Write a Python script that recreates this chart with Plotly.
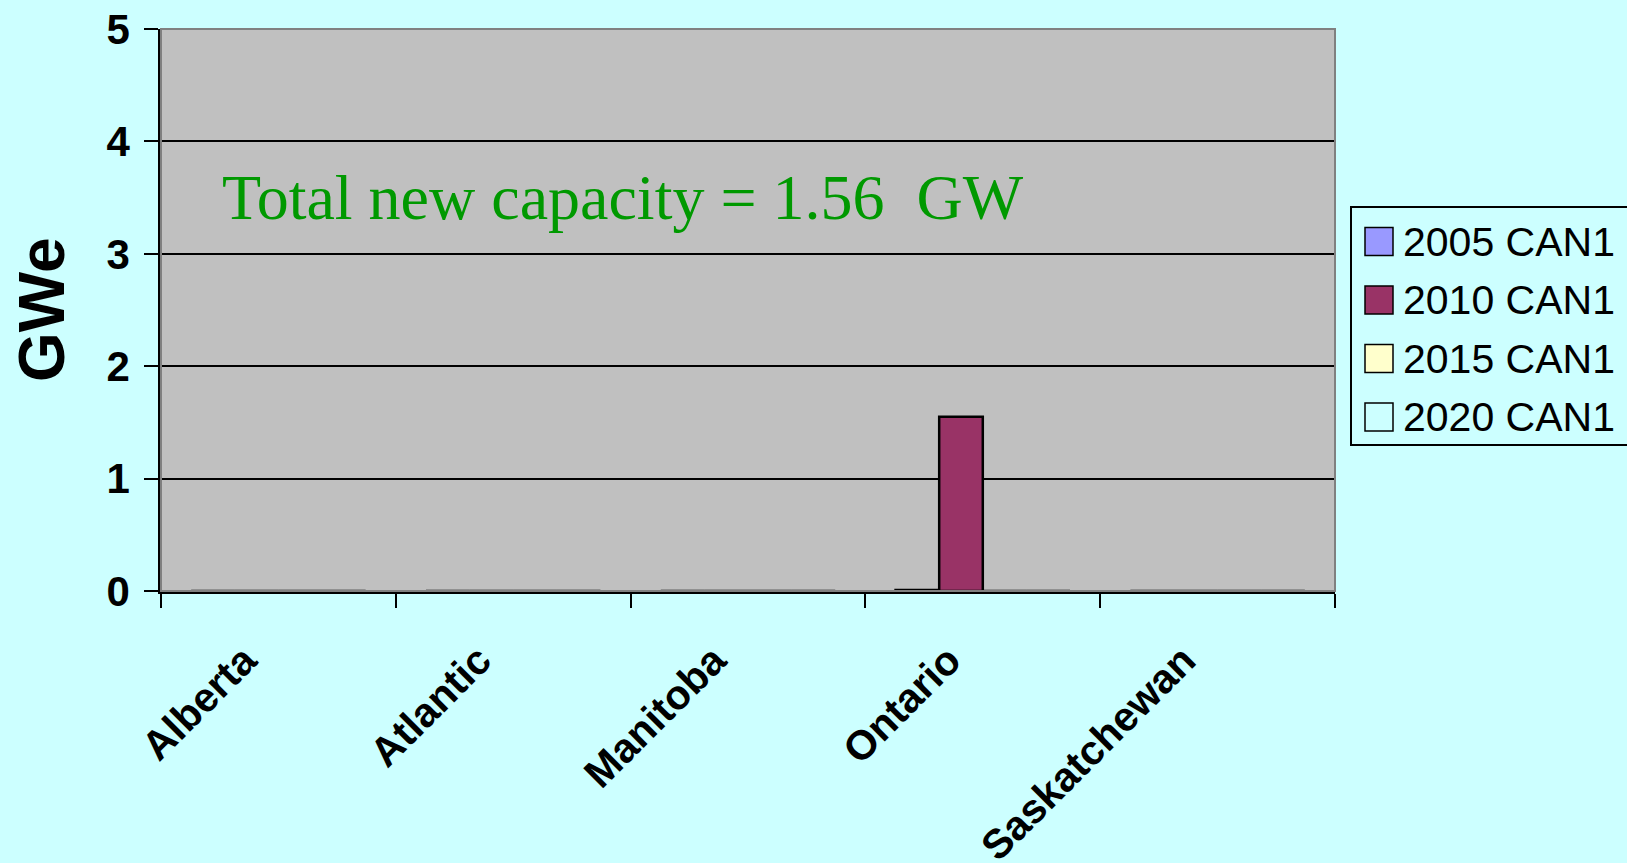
import plotly.graph_objects as go

# Regions and new capacity (GWe) by scenario year
regions = ["Alberta", "Atlantic", "Manitoba", "Ontario", "Saskatchewan"]
series_names = ["2005 CAN1", "2010 CAN1", "2015 CAN1", "2020 CAN1"]
cap_2005 = [0.0, 0.0, 0.0, 0.01, 0.0]
cap_2010 = [0.0, 0.0, 0.0, 1.55, 0.0]
cap_2015 = [0.0, 0.0, 0.0, 0.0, 0.0]
cap_2020 = [0.0, 0.0, 0.0, 0.0, 0.0]
series_values = [cap_2005, cap_2010, cap_2015, cap_2020]
series_colors = ["#9999FF", "#993366", "#FFFFCC", "#CCFFFF"]
y_ticks = [0, 1, 2, 3, 4, 5]

W, H = 1627, 863
L, R, T, B = 161, 292, 29, 272
pw, ph = W - L - R, H - T - B


def px_x(p):
    return (p - L) / pw


def px_y(p):
    return (H - B - p) / ph


fig = go.Figure()
for name, vals, col in zip(series_names, series_values, series_colors):
    fig.add_trace(go.Bar(
        x=regions, y=vals, name=name,
        marker=dict(color=col, line=dict(color="black", width=2.5)),
        showlegend=False,
    ))

total = sum(sum(v) for v in series_values)

annotations = [
    dict(text=f"Total new capacity = {total:.2f}\u00a0 GW", xref="paper", yref="paper",
         x=px_x(220), y=px_y(197), xanchor="left", yanchor="middle", showarrow=False,
         font=dict(family="Liberation Serif", size=64, color="#009900")),
    dict(text="GWe", xref="paper", yref="paper", x=px_x(42), y=0.5, textangle=-90,
         xanchor="center", yanchor="middle", showarrow=False,
         font=dict(family="Liberation Sans", size=64, color="black", weight="bold")),
]

shapes = [
    # plot area border (top/right)
    dict(type="rect", xref="paper", yref="paper", x0=0, x1=1, y0=0, y1=1,
         line=dict(color="#808080", width=2), layer="above"),
    # legend frame
    dict(type="rect", xref="paper", yref="paper", x0=px_x(1351), x1=px_x(1660),
         y0=px_y(445), y1=px_y(207), line=dict(color="black", width=2)),
]

row_centers = [241.5, 300, 358.5, 417]
for name, col, yc in zip(series_names, series_colors, row_centers):
    shapes.append(dict(type="rect", xref="paper", yref="paper",
                       x0=px_x(1365), x1=px_x(1393), y0=px_y(yc + 14), y1=px_y(yc - 14),
                       fillcolor=col, line=dict(color="black", width=1.5)))
    annotations.append(dict(text=name, xref="paper", yref="paper", x=px_x(1401), y=px_y(yc),
                            xanchor="left", yanchor="middle", showarrow=False,
                            font=dict(family="Liberation Sans", size=41, color="black")))

fig.update_layout(
    width=W, height=H,
    margin=dict(l=L, r=R, t=T, b=B, autoexpand=False),
    paper_bgcolor="#CCFFFF",
    plot_bgcolor="#C0C0C0",
    barmode="group",
    bargap=0.257,
    bargroupgap=0,
    annotations=annotations,
    shapes=shapes,
    showlegend=False,
)

fig.update_xaxes(
    type="category", tickson="boundaries", ticks="outside", ticklen=14, tickwidth=2,
    tickcolor="black", showline=True, linecolor="black", linewidth=2.5,
    tickangle=-45, showgrid=False,
    tickfont=dict(family="Liberation Sans", size=41, color="black", weight="bold"),
    ticklabelstandoff=26, ticklabelshift=-34,
)
fig.update_yaxes(
    range=[0, 5], tickvals=y_ticks, ticks="outside", ticklen=14, tickwidth=2,
    tickcolor="black", showline=True, linecolor="black", linewidth=2.5,
    showgrid=True, gridcolor="black", gridwidth=1.5, zeroline=False,
    tickfont=dict(family="Liberation Sans", size=42, color="black", weight="bold"),
    ticklabelstandoff=6,
)

fig.write_html("out.html")
